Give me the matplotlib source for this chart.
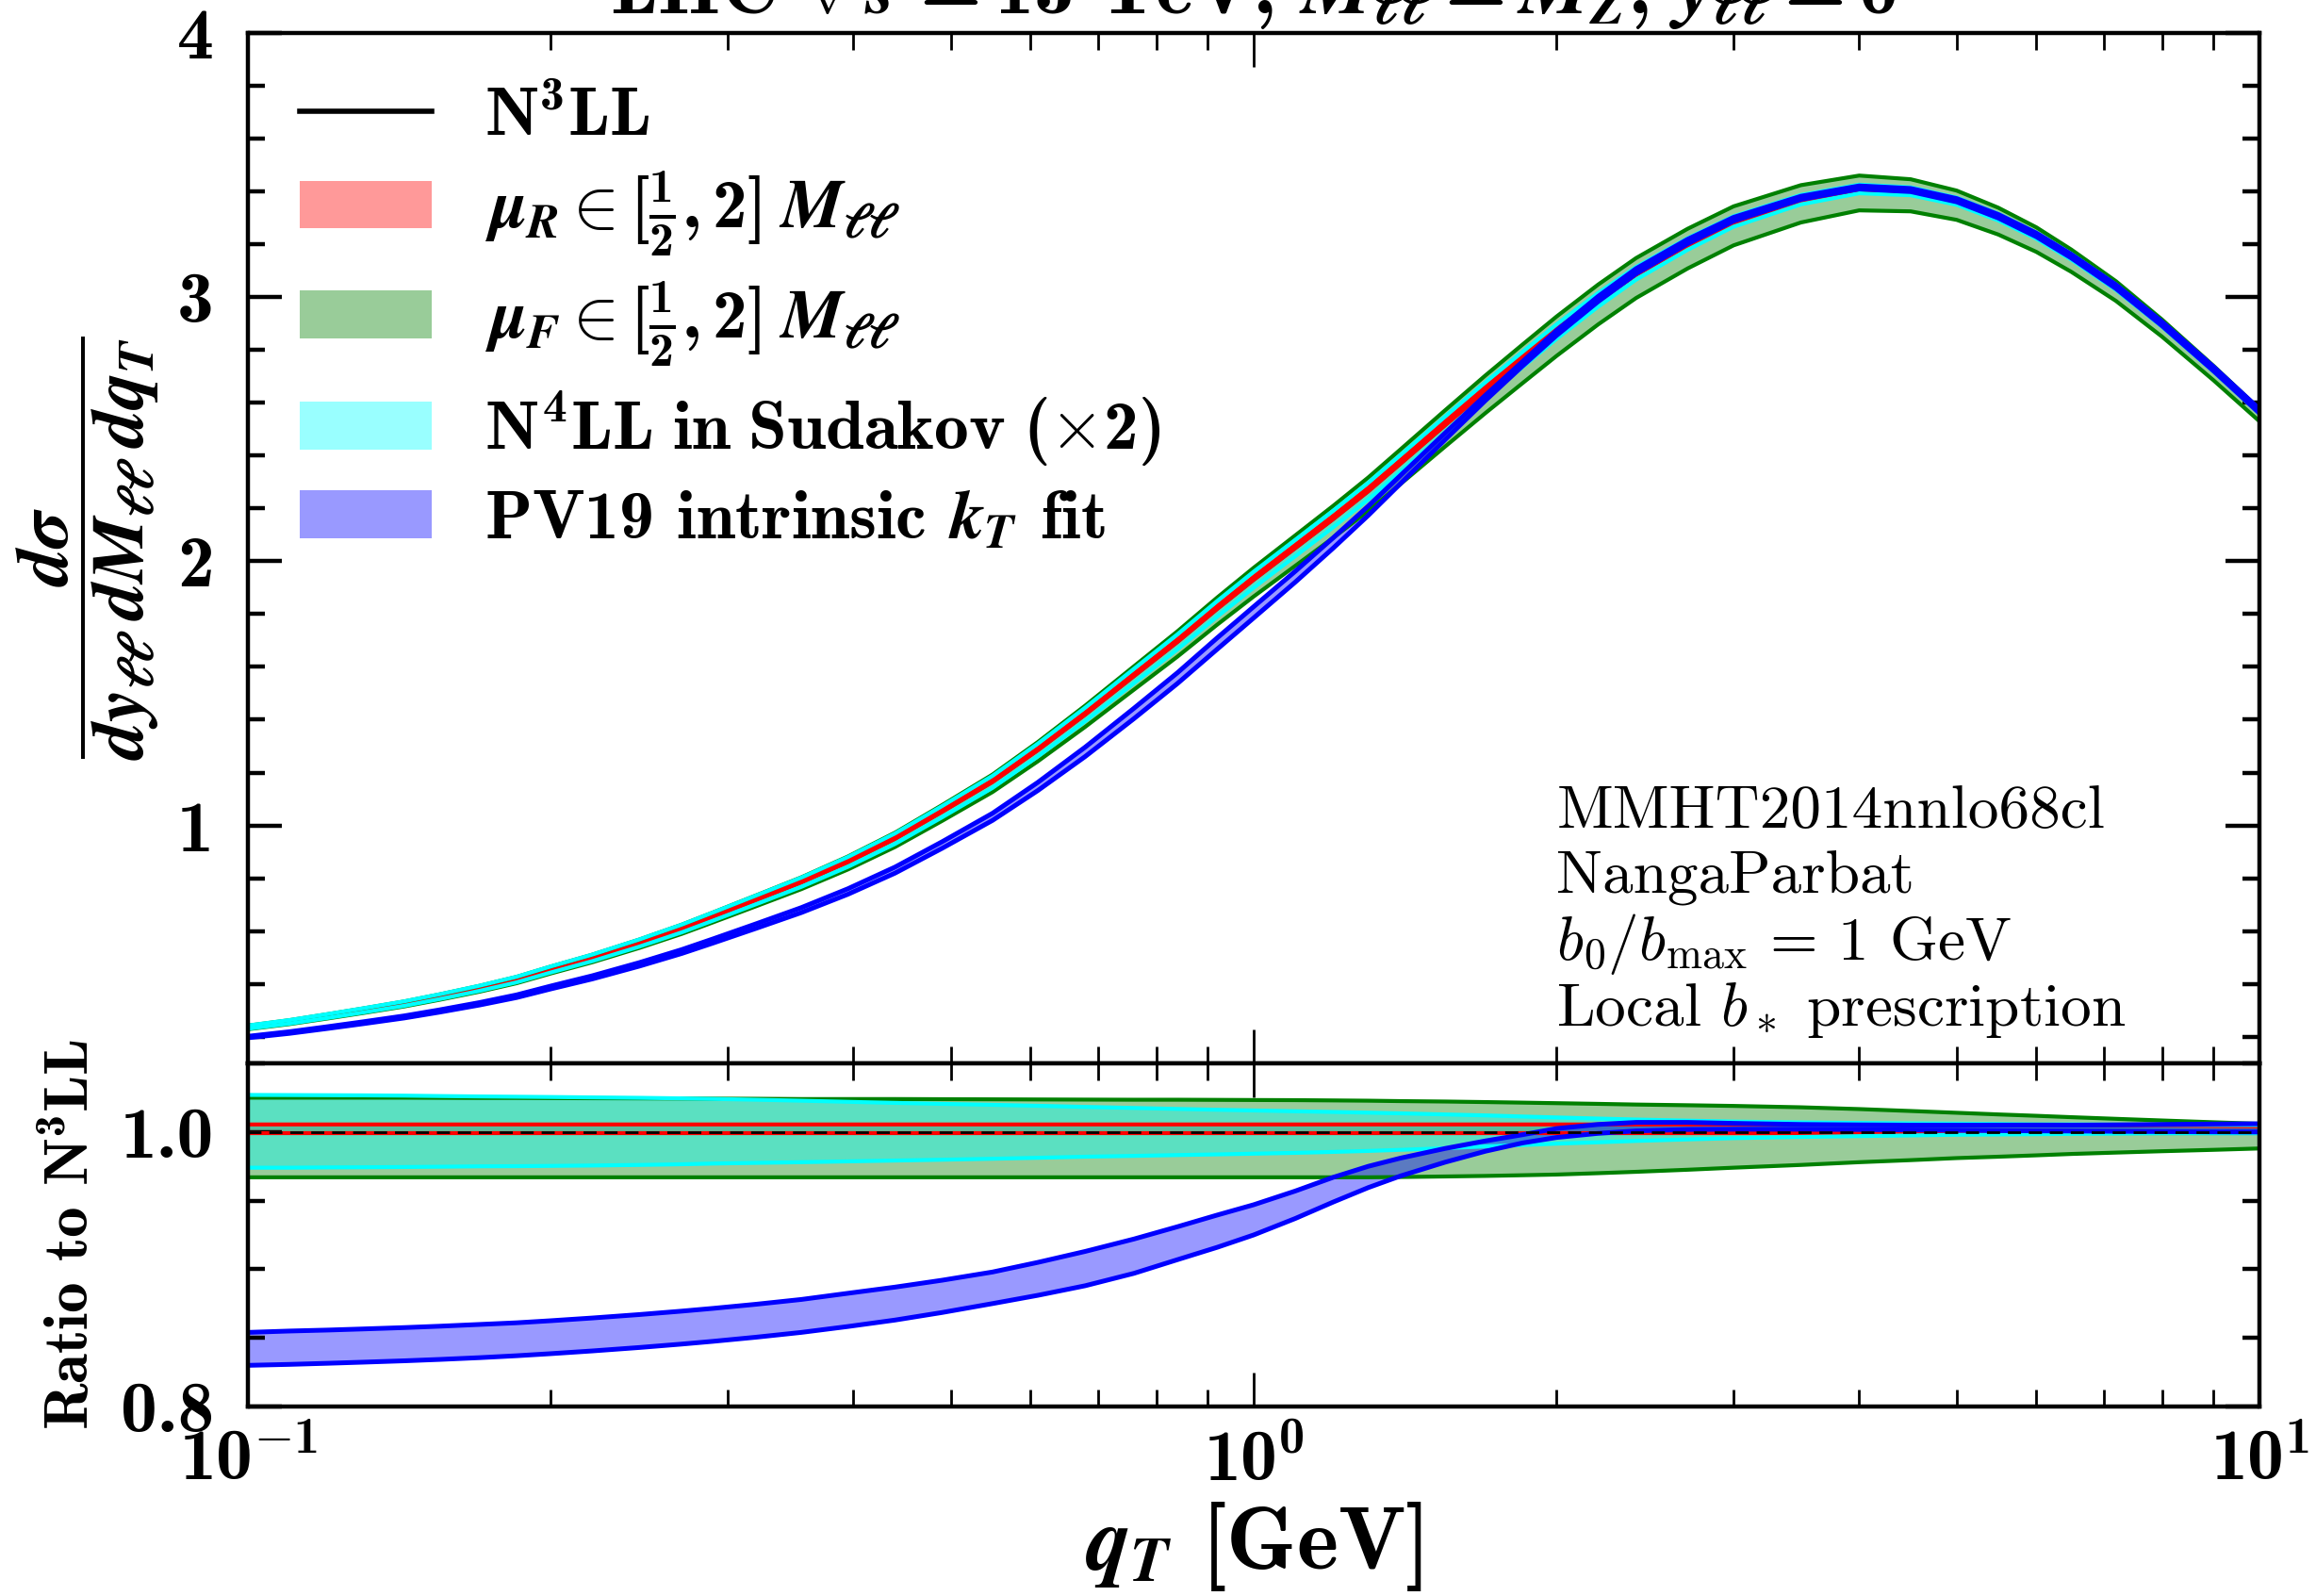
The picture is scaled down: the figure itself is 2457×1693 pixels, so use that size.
import numpy as np
import matplotlib
matplotlib.use("Agg")
import matplotlib.pyplot as plt
from matplotlib.lines import Line2D
from matplotlib.patches import Patch
from matplotlib.ticker import MultipleLocator, LogLocator, NullFormatter

# bold Computer Modern for text, bold italic for math symbols
plt.rcParams['font.family'] = ['cmb10', 'DejaVu Sans']
plt.rcParams['mathtext.fontset'] = 'custom'
plt.rcParams['mathtext.rm'] = 'cmb10'
plt.rcParams['mathtext.bf'] = 'cmb10'
plt.rcParams['mathtext.it'] = 'STIXGeneral:italic:bold'
plt.rcParams['mathtext.cal'] = 'cmmi10'
plt.rcParams['mathtext.sf'] = 'cmr10'
plt.rcParams['axes.unicode_minus'] = False

# qT grid [GeV] and N3LL central prediction
qt = [0.1, 0.11, 0.12, 0.13, 0.143, 0.155, 0.17, 0.185, 0.2, 0.22,
      0.245, 0.27, 0.29, 0.32, 0.355, 0.395, 0.44, 0.49, 0.55, 0.61,
      0.68, 0.76, 0.84, 0.92, 1.0, 1.1, 1.2, 1.3, 1.4, 1.55,
      1.7, 1.85, 2.0, 2.2, 2.4, 2.7, 3.0, 3.5, 4.0, 4.5,
      5.0, 5.5, 6.0, 6.5, 7.2, 8.0, 9.0, 10.0]
n3ll = [0.237, 0.257, 0.279, 0.300, 0.326, 0.352, 0.384, 0.417, 0.455, 0.499,
        0.555, 0.610, 0.655, 0.718, 0.785, 0.862, 0.950, 1.052, 1.165, 1.285,
        1.420, 1.565, 1.695, 1.820, 1.930, 2.050, 2.160, 2.265, 2.370, 2.515,
        2.645, 2.760, 2.865, 2.985, 3.085, 3.195, 3.280, 3.362, 3.402, 3.393,
        3.355, 3.295, 3.225, 3.145, 3.030, 2.890, 2.720, 2.560]

# band edges as ratio to N3LL
red_lo = [0.9995] * 48
red_hi = [1.0055] * 43 + [1.0053, 1.005, 1.0047, 1.0043, 1.004]
green_lo = [0.967] * 28 + [0.9672, 0.9676, 0.968, 0.9685, 0.969, 0.970, 0.971, 0.9725, 0.974, 0.976,
                           0.978, 0.9795, 0.981, 0.982, 0.983, 0.984, 0.985, 0.986, 0.987, 0.988]
green_hi = [1.025, 1.025, 1.025, 1.025, 1.025, 1.0249, 1.0248, 1.0248, 1.0247, 1.0246,
            1.0245, 1.0244, 1.0243, 1.0242, 1.024, 1.024, 1.024, 1.0239, 1.0238, 1.0237,
            1.0236, 1.0235, 1.0235, 1.0234, 1.0233, 1.0232, 1.023, 1.0228, 1.0225, 1.0222,
            1.0218, 1.0214, 1.021, 1.0205, 1.020, 1.0195, 1.019, 1.018, 1.0167, 1.0153,
            1.014, 1.0128, 1.0118, 1.0108, 1.0096, 1.0084, 1.0071, 1.006]
cyan_lo = [0.974, 0.974, 0.9742, 0.9743, 0.9745, 0.9747, 0.975, 0.9751, 0.9753, 0.9756,
           0.976, 0.9765, 0.977, 0.9775, 0.978, 0.9786, 0.9792, 0.9798, 0.9805, 0.9812,
           0.982, 0.9826, 0.9832, 0.9837, 0.9842, 0.9848, 0.9855, 0.9862, 0.987, 0.9882,
           0.9895, 0.9905, 0.9915, 0.9925, 0.9935, 0.9946, 0.9955, 0.9964, 0.997, 0.9975,
           0.998, 0.9982, 0.9984, 0.9986, 0.9988, 0.999, 0.999, 0.999]
cyan_hi = [1.027, 1.0269, 1.0268, 1.0267, 1.0265, 1.0262, 1.0259, 1.0257, 1.0255, 1.0252,
           1.0249, 1.0245, 1.0241, 1.0235, 1.0228, 1.022, 1.0212, 1.0205, 1.0198, 1.0191,
           1.0183, 1.0175, 1.0168, 1.0162, 1.0157, 1.0151, 1.0146, 1.0141, 1.0136, 1.0128,
           1.0121, 1.0113, 1.0106, 1.0098, 1.0091, 1.0083, 1.0076, 1.007, 1.0066, 1.0063,
           1.0061, 1.0059, 1.0057, 1.0056, 1.0054, 1.0052, 1.0051, 1.005]
blue_lo = [0.830, 0.8307, 0.8315, 0.8323, 0.8333, 0.8343, 0.8356, 0.837, 0.8385, 0.8405,
           0.843, 0.8455, 0.8475, 0.8505, 0.854, 0.8583, 0.863, 0.8685, 0.875, 0.881,
           0.888, 0.897, 0.907, 0.916, 0.925, 0.937, 0.949, 0.9595, 0.968, 0.978,
           0.986, 0.992, 0.996, 0.999, 1.0008, 1.0018, 1.002, 1.002, 1.0018, 1.0015,
           1.0013, 1.001, 1.0008, 1.0007, 1.0005, 1.0003, 1.0001, 1.0]
blue_hi = [0.854, 0.855, 0.8557, 0.8565, 0.8575, 0.8585, 0.8598, 0.861, 0.8625, 0.8645,
           0.867, 0.8695, 0.8715, 0.8745, 0.878, 0.8825, 0.887, 0.892, 0.898, 0.905,
           0.913, 0.922, 0.931, 0.9395, 0.947, 0.957, 0.967, 0.975, 0.981, 0.988,
           0.9935, 0.998, 1.0025, 1.0055, 1.007, 1.007, 1.0063, 1.0055, 1.0052, 1.005,
           1.005, 1.005, 1.005, 1.005, 1.0052, 1.0055, 1.0058, 1.006]

labels = [r'$\mu_R \in [\frac{1}{2}, 2]\; M_{\ell\ell}$',
          r'$\mu_F \in [\frac{1}{2}, 2]\; M_{\ell\ell}$',
          r'$\mathbf{N^{4}LL\ in\ Sudakov\ (\times 2)}$',
          r'PV19 intrinsic $k_T$ fit']
colors = ['red', 'green', 'cyan', 'blue']
edge_lw = [1.5, 1.5, 1.5, 1.8]
bands = [(red_lo, red_hi), (green_lo, green_hi), (cyan_lo, cyan_hi), (blue_lo, blue_hi)]

fig = plt.figure(figsize=(12.285, 8.465), dpi=200)
ax1 = fig.add_axes([0.10704, 0.33373, 0.86854, 0.64589])
ax2 = fig.add_axes([0.10704, 0.11872, 0.86854, 0.21501], sharex=ax1)

central = np.array(n3ll)
ax1.plot(qt, central, color='k', lw=1.5, zorder=1)

for (lo, hi), col, lw in zip(bands, colors, edge_lw):
    lo = np.array(lo)
    hi = np.array(hi)
    for ax, norm in ((ax1, central), (ax2, 1.0)):
        ax.fill_between(qt, lo * norm, hi * norm, color=col, alpha=0.4, lw=0)
        ax.plot(qt, lo * norm, color=col, lw=lw)
        ax.plot(qt, hi * norm, color=col, lw=lw)

ax2.axhline(1.0, color='k', lw=1.0, ls=(0, (5, 3)), zorder=5)

ax1.set_xscale('log')
ax1.set_xlim(0.1, 10)
ax1.set_ylim(0.1, 4)
ax2.set_ylim(0.8, 1.05)

ax1.yaxis.set_major_locator(MultipleLocator(1))
ax1.yaxis.set_minor_locator(MultipleLocator(0.2))
ax1.set_yticks([1, 2, 3, 4], labels=['1', '2', '3', '4'])
ax2.yaxis.set_major_locator(MultipleLocator(0.2))
ax2.yaxis.set_minor_locator(MultipleLocator(0.05))
ax2.set_yticks([0.8, 1.0], labels=['0.8', '1.0'])

ax2.set_xticks([0.1, 1, 10], labels=[r'$10^{-1}$', r'$10^{0}$', r'$10^{1}$'])
ax2.xaxis.set_minor_locator(LogLocator(base=10, subs=np.arange(2, 10)))
ax2.xaxis.set_minor_formatter(NullFormatter())
ax1.tick_params(axis='x', which='both', labelbottom=False)

for ax in (ax1, ax2):
    ax.tick_params(which='both', direction='in', top=True, right=True, labelsize=28)
    ax.tick_params(axis='x', which='major', length=13, width=1.0, pad=9)
    ax.tick_params(axis='x', which='minor', length=6.5, width=1.0)
    ax.tick_params(axis='y', which='major', length=13, width=1.6, pad=13)
    ax.tick_params(axis='y', which='minor', length=6.5, width=1.6)
    for s in ax.spines.values():
        s.set_linewidth(1.6)

ax1.set_ylabel(r'$\dfrac{d\sigma}{dy_{\ell\ell}\;dM_{\ell\ell}\;dq_T}$', fontsize=28)
ax1.yaxis.set_label_coords(-0.043, 0.5)
ax2.set_ylabel(r'Ratio to N$^{3}$LL', fontsize=23.5)
ax2.yaxis.set_label_coords(-0.073, 0.5)
ax2.set_xlabel(r'$q_T$ [GeV]', fontsize=34)
ax2.xaxis.set_label_coords(0.5, -0.272)

ax1.set_title(r'LHC $\sqrt{s} = 13$ TeV, $M_{\ell\ell} = M_Z$, $y_{\ell\ell} = 0$',
              fontsize=30.5, pad=7)

handles = [Line2D([], [], color='k', lw=2)]
handles += [Patch(facecolor=c, alpha=0.4, edgecolor='none') for c in colors]
ax1.legend(handles, [r'N$^{3}$LL'] + labels, loc='upper left', bbox_to_anchor=(0.026, 0.947),
           frameon=False, fontsize=26.5, handlelength=1.9, handleheight=0.68,
           handletextpad=0.75, labelspacing=0.3, borderpad=0, borderaxespad=0)

info = ['MMHT2014nnlo68cl',
        'NangaParbat',
        r'$\mathcal{b}_\mathsf{0}\mathsf{/}\mathcal{b}_\mathsf{max}$ = 1 GeV',
        r'Local $\mathcal{b}_\ast$ prescription']
for i, line in enumerate(info):
    ax1.text(0.6506, 0.229 - i * 0.064, line, transform=ax1.transAxes,
             fontsize=23.5, family=['cmr10', 'DejaVu Sans'], va='baseline')

fig.savefig('out.png', dpi=200)
